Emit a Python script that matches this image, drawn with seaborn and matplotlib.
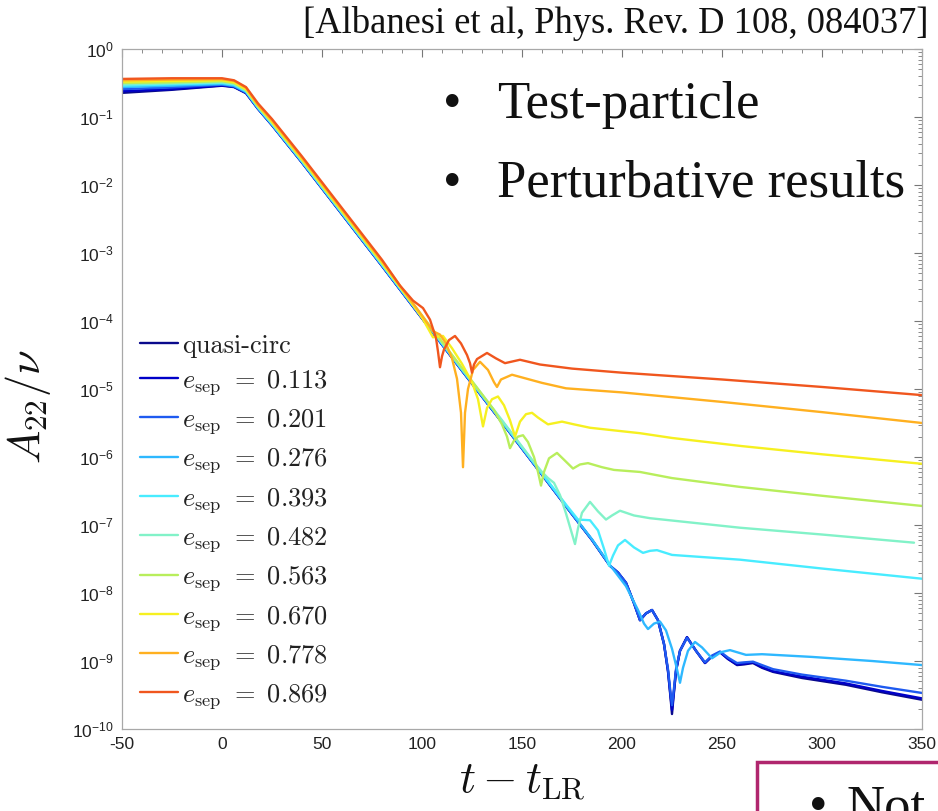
import numpy as np
import pandas as pd
import matplotlib
matplotlib.use("Agg")
import matplotlib.pyplot as plt
import seaborn as sns
from matplotlib.ticker import LogLocator, MultipleLocator, NullFormatter, LogFormatterSciNotation
from matplotlib.patches import Rectangle

# ---------------- data (t - t_LR, log10(A22/nu)) ----------------
LABELS = ["quasi-circ",
          r"$e_{\rm sep}\ =\ 0.113$", r"$e_{\rm sep}\ =\ 0.201$", r"$e_{\rm sep}\ =\ 0.276$",
          r"$e_{\rm sep}\ =\ 0.393$", r"$e_{\rm sep}\ =\ 0.482$", r"$e_{\rm sep}\ =\ 0.563$",
          r"$e_{\rm sep}\ =\ 0.670$", r"$e_{\rm sep}\ =\ 0.778$", r"$e_{\rm sep}\ =\ 0.869$"]
COLORS = ["#0a0a8c", "#0000c8", "#1e5af0", "#2eb8ff", "#48ecff",
          "#82f2c8", "#b8ee5c", "#f6f020", "#ffb020", "#f0561e"]

T_QC = [-50, -25, 0, 6, 12, 18, 25, 40, 60, 80, 100, 120, 140, 160, 175, 185, 194, 198, 202, 206,
        209, 212, 215, 218, 221, 223, 224.3, 225, 225.7, 227, 229, 232.5, 237, 241.5, 245, 249, 253,
        257.5, 261, 265.5, 270, 275.5, 290, 312, 330, 350]
L_QC = [-0.645, -0.60, -0.54, -0.56, -0.65, -0.88, -1.12, -1.67, -2.43, -3.19, -3.96, -4.73, -5.49,
        -6.26, -6.84, -7.22, -7.60, -7.70, -7.85, -8.15, -8.40, -8.30, -8.25, -8.40, -8.75, -9.15,
        -9.55, -9.78, -9.55, -9.15, -8.85, -8.65, -8.85, -9.03, -8.93, -8.87, -8.97, -9.06, -9.05,
        -9.03, -9.10, -9.16, -9.25, -9.35, -9.46, -9.57]

T_113 = T_QC
L_113 = [-0.62, -0.59, -0.535, -0.555, -0.645, -0.88, -1.12, -1.67, -2.43, -3.19, -3.96, -4.73, -5.49,
         -6.26, -6.84, -7.22, -7.60, -7.70, -7.85, -8.15, -8.40, -8.30, -8.25, -8.40, -8.75, -9.15,
         -9.52, -9.72, -9.52, -9.15, -8.85, -8.65, -8.85, -9.03, -8.93, -8.87, -8.97, -9.05, -9.04,
         -9.02, -9.09, -9.15, -9.23, -9.33, -9.44, -9.55]

T_201 = T_QC
L_201 = [-0.59, -0.565, -0.525, -0.55, -0.64, -0.875, -1.115, -1.665, -2.425, -3.185, -3.96, -4.73,
         -5.49, -6.26, -6.84, -7.22, -7.60, -7.70, -7.85, -8.15, -8.40, -8.30, -8.25, -8.40, -8.75,
         -9.12, -9.48, -9.65, -9.48, -9.12, -8.85, -8.66, -8.85, -9.02, -8.92, -8.86, -8.95, -9.03,
         -9.02, -9.01, -9.06, -9.12, -9.20, -9.29, -9.38, -9.47]

T_276 = [-50, -25, 0, 6, 12, 18, 25, 40, 60, 80, 100, 120, 140, 160, 175, 185, 194, 202, 208, 211,
         213, 216, 219, 222, 225, 227.5, 229, 230.5, 233, 236.5, 240, 245, 249.5, 254, 262, 270, 295,
         325, 350]
L_276 = [-0.56, -0.54, -0.515, -0.54, -0.63, -0.87, -1.11, -1.66, -2.42, -3.18, -3.95, -4.72, -5.48,
         -6.25, -6.83, -7.21, -7.59, -7.90, -8.25, -8.45, -8.53, -8.45, -8.42, -8.55, -8.82, -9.12,
         -9.32, -9.10, -8.85, -8.72, -8.80, -8.96, -8.87, -8.84, -8.91, -8.90, -8.94, -9.00, -9.06]

T_393 = [-50, -25, 0, 6, 12, 18, 25, 40, 60, 80, 100, 120, 140, 160, 172, 178, 184, 188, 191, 193.5,
         195.5, 198, 201.5, 206, 210.5, 214, 217.5, 225, 259, 300, 350]
L_393 = [-0.54, -0.52, -0.50, -0.525, -0.62, -0.86, -1.10, -1.65, -2.41, -3.17, -3.94, -4.71, -5.47,
         -6.24, -6.70, -6.92, -6.93, -7.08, -7.35, -7.60, -7.45, -7.30, -7.22, -7.33, -7.41, -7.38,
         -7.37, -7.44, -7.51, -7.64, -7.79]

T_482 = [-50, -25, 0, 6, 12, 18, 25, 40, 60, 80, 100, 120, 140, 155, 160, 163, 166, 169, 172, 174.5,
         176.5, 178, 180, 184, 188, 192, 195, 199, 206, 214, 259, 300, 346]
L_482 = [-0.52, -0.505, -0.49, -0.515, -0.61, -0.85, -1.09, -1.64, -2.40, -3.16, -3.93, -4.70, -5.46,
         -6.04, -6.22, -6.31, -6.38, -6.56, -6.83, -7.08, -7.28, -7.05, -6.82, -6.66, -6.80, -6.92,
         -6.86, -6.79, -6.86, -6.90, -7.04, -7.14, -7.26]

T_563 = [-50, -25, 0, 6, 12, 18, 25, 40, 60, 80, 100, 120, 136, 140, 142.5, 144, 146, 148, 150.5, 153,
         156, 158, 159.5, 161, 163.5, 167.5, 171, 175.5, 179, 183, 190, 196, 209, 225, 259, 300, 350]
L_563 = [-0.50, -0.49, -0.475, -0.50, -0.60, -0.84, -1.08, -1.63, -2.39, -3.15, -3.92, -4.69, -5.31,
         -5.52, -5.70, -5.87, -5.76, -5.70, -5.68, -5.78, -6.00, -6.22, -6.42, -6.22, -6.02, -5.94,
         -6.04, -6.17, -6.11, -6.09, -6.15, -6.19, -6.22, -6.31, -6.44, -6.57, -6.72]

T_670 = [-50, -25, 0, 6, 12, 18, 25, 40, 60, 80, 91.5, 100, 105.5, 110.5, 115, 120, 125, 128, 130.5,
         132.5, 135, 138, 141, 144, 146.5, 149, 152, 155, 158, 163, 170, 176, 184, 209, 225, 260, 300, 350]
L_670 = [-0.48, -0.47, -0.46, -0.49, -0.59, -0.83, -1.07, -1.62, -2.38, -3.14, -3.60, -3.95, -4.24,
         -4.22, -4.40, -4.63, -4.90, -5.15, -5.55, -5.28, -5.15, -5.11, -5.24, -5.46, -5.70, -5.48,
         -5.37, -5.35, -5.42, -5.52, -5.48, -5.52, -5.57, -5.65, -5.72, -5.84, -5.96, -6.10]

T_778 = [-50, -25, 0, 6, 12, 18, 25, 40, 60, 80, 90, 100, 105.5, 109, 112, 115, 117.5, 119.5, 120.5,
         121.5, 123, 125.5, 129, 133, 136, 137.5, 139.5, 145, 150, 160, 172, 200, 250, 300, 350]
L_778 = [-0.46, -0.45, -0.445, -0.47, -0.57, -0.82, -1.05, -1.60, -2.36, -3.12, -3.52, -3.92, -4.15,
         -4.20, -4.33, -4.55, -4.85, -5.35, -6.15, -5.35, -5.00, -4.72, -4.60, -4.72, -4.90, -4.97,
         -4.86, -4.79, -4.83, -4.91, -4.99, -5.05, -5.19, -5.34, -5.50]

T_869 = [-50, -25, 0, 6, 12, 18, 25, 40, 60, 80, 89, 95.5, 100.5, 104, 107, 108, 109, 110, 111, 113.5,
         116.5, 119.5, 122.5, 124, 125, 126, 127.5, 132.5, 137, 141.5, 149, 159, 175, 200, 250, 300, 350]
L_869 = [-0.44, -0.43, -0.43, -0.46, -0.56, -0.80, -1.03, -1.58, -2.34, -3.10, -3.48, -3.70, -3.81,
         -3.98, -4.25, -4.45, -4.68, -4.52, -4.42, -4.28, -4.22, -4.33, -4.50, -4.62, -4.76, -4.64,
         -4.56, -4.47, -4.55, -4.62, -4.57, -4.64, -4.70, -4.76, -4.86, -4.97, -5.09]

SERIES_T = [T_QC, T_113, T_201, T_276, T_393, T_482, T_563, T_670, T_778, T_869]
SERIES_L = [L_QC, L_113, L_201, L_276, L_393, L_482, L_563, L_670, L_778, L_869]

XTICKS = [-50, 0, 50, 100, 150, 200, 250, 300, 350]
CITATION = "[Albanesi et al, Phys. Rev. D 108, 084037]"
BULLETS = ["Test-particle", "Perturbative results"]

# ---------------- table ----------------
frames = []
for lab, t, l in zip(LABELS, SERIES_T, SERIES_L):
    frames.append(pd.DataFrame({"t": t, "A": np.power(10.0, l), "case": lab}))
df = pd.concat(frames, ignore_index=True)

# ---------------- style ----------------
sns.set_style("white")
plt.rcParams["font.family"] = ["Liberation Sans", "DejaVu Sans"]
plt.rcParams["mathtext.fontset"] = "cm"
plt.rcParams["axes.unicode_minus"] = False

W, H = 938, 811
fig = plt.figure(figsize=(W / 100, H / 100), dpi=100)
ax = fig.add_axes([122 / W, 1 - 729 / H, 800 / W, 680 / H])

sns.lineplot(data=df, x="t", y="A", hue="case", hue_order=LABELS,
             palette=dict(zip(LABELS, COLORS)), estimator=None, sort=False,
             linewidth=1.7, ax=ax, legend=True)

ax.set_yscale("log")
ax.set_xlim(-50, 350)
ax.set_ylim(1e-10, 1e0)
ax.set_xticks(XTICKS)
ax.set_xticklabels([str(v) for v in XTICKS])
ax.xaxis.set_minor_locator(MultipleLocator(10))
ax.yaxis.set_major_locator(LogLocator(base=10, numticks=20))
ax.yaxis.set_minor_locator(LogLocator(base=10, subs=np.arange(2, 10), numticks=200))
ax.yaxis.set_minor_formatter(NullFormatter())
ax.yaxis.set_major_formatter(LogFormatterSciNotation())

for s in ax.spines.values():
    s.set_color("#a8a8a8")
    s.set_linewidth(0.9)
ax.tick_params(which="both", direction="in", top=True, right=True, color="#777777",
               labelsize=12.5, labelcolor="#222222")
ax.tick_params(which="major", length=6, width=0.8, pad=6)
ax.tick_params(which="minor", length=3, width=0.6)

ax.set_xlabel(r"$t - t_{\rm LR}$", fontsize=32, labelpad=6, color="#111111")
ax.set_ylabel(r"$A_{22}/\nu$", fontsize=32, color="#111111")
ax.yaxis.set_label_coords(-0.086, 0.474)

handles, labels = ax.get_legend_handles_labels()
if ax.get_legend() is not None:
    ax.get_legend().remove()
leg = ax.legend(handles, labels, loc="upper left", bbox_to_anchor=(0.0225, 0.581),
                frameon=False, handlelength=1.45, handletextpad=0.15,
                labelspacing=0.39, borderaxespad=0.0, borderpad=0.0,
                prop={"family": "cmr10", "size": 19})
for txt in leg.get_texts():
    txt.set_color("#222222")
for ln in leg.get_lines():
    ln.set_linewidth(1.7)

# ---------------- slide annotations ----------------
fig.text(928 / W, 1 - 33 / H, CITATION, ha="right", va="baseline",
         family="Liberation Serif", fontsize=26.3, color="#111111")
for i, txt in enumerate(BULLETS):
    yb = 1 - (118 + 79 * i) / H
    fig.text(452 / W, yb, "\u2022", ha="center", va="baseline",
             family="Liberation Serif", fontsize=38, color="#111111")
    fig.text(497 / W, yb, txt, ha="left", va="baseline",
             family="Liberation Serif", fontsize=38, color="#111111")

fig.patches.append(Rectangle((757 / W, -0.05), 0.3, (0.05 + 1 - 762 / H),
                             transform=fig.transFigure, fill=False,
                             edgecolor="#b0266e", linewidth=2.5))
fig.text(818 / W, 1 - 821 / H, "\u2022", ha="center", va="baseline",
         family="Liberation Serif", fontsize=38, color="#111111")
fig.text(846 / W, 1 - 821 / H, "Not", ha="left", va="baseline",
         family="Liberation Serif", fontsize=38, color="#111111")

fig.savefig("out.png", dpi=100, facecolor="white")
